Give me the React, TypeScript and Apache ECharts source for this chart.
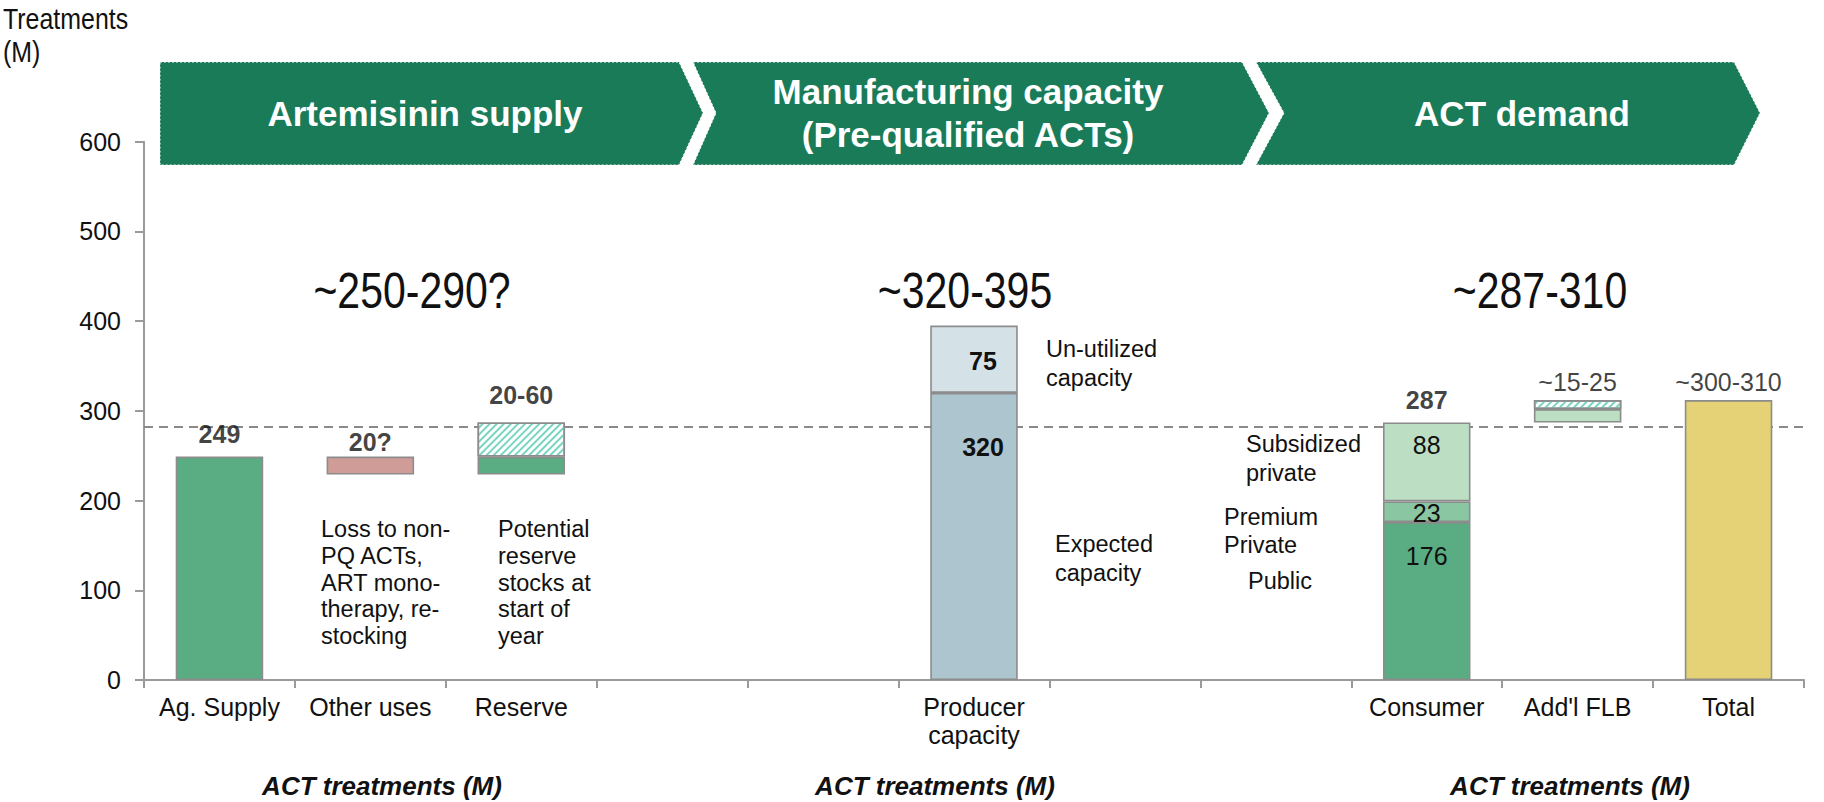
import React, { useEffect, useRef } from 'react';
import * as echarts from 'echarts';

// ---------- data ----------
const categories = ['Ag. Supply', 'Other uses', 'Reserve', '', '', 'Producer\ncapacity', '', '', 'Consumer', "Add'l FLB", 'Total'];
const baseValues: (number | string)[] = ['-', 229, 229, '-', '-', '-', '-', '-', '-', 287, '-'];
const layer1Values: (number | string)[] = [249, 20, 20, '-', '-', 320, '-', '-', 176, 15, 312];
const layer2Values: (number | string)[] = ['-', '-', 38, '-', '-', 75, '-', '-', 23, 10, '-'];
const layer3Values: (number | string)[] = ['-', '-', '-', '-', '-', '-', '-', '-', 88, '-', '-'];
const layer1Labels = ['', '', '', '', '', '320', '', '', '176', '', ''];
const layer2Labels = ['', '', '', '', '', '75', '', '', '23', '', ''];
const layer3Labels = ['', '', '', '', '', '', '', '', '88', '', ''];
const topLabels = ['249', '20?', '20-60', '', '', '', '', '', '287', '~15-25', '~300-310'];
const rangeLabels = ['~250-290?', '~320-395', '~287-310'];
const sectionTitles = ['Artemisinin supply', 'Manufacturing capacity\n(Pre-qualified ACTs)', 'ACT demand'];
const footerLabels = ['ACT treatments (M)', 'ACT treatments (M)', 'ACT treatments (M)'];
const axisTitle = 'Treatments\n(M)';
const referenceLine = 282;
const yMin = 0;
const yMax = 600;
const yInterval = 100;

// ---------- styles ----------
const FONT = '"Liberation Sans", Arial, Helvetica, sans-serif';
const GREEN = '#5AAD83';
const PINK = '#D09C98';
const BLUE_DARK = '#ADC5CF';
const BLUE_LIGHT = '#D4E1E7';
const GREEN_MID = '#8AC6A2';
const GREEN_LIGHT = '#BCDFC4';
const YELLOW = '#E5D276';
const HEADER = '#1A7B58';
const BORDER = '#8C8C8C';
const hatch = {
  symbol: 'rect',
  symbolSize: 1,
  dashArrayX: [1, 0],
  dashArrayY: [1.5, 3],
  rotation: -Math.PI / 4,
  color: '#78D6C0',
};
const layer1Colors = [GREEN, PINK, GREEN, '', '', BLUE_DARK, '', '', GREEN, GREEN_LIGHT, YELLOW];
const layer2Colors = ['', '', 'hatch', '', '', BLUE_LIGHT, '', '', GREEN_MID, 'hatch', ''];
const layer3Colors = ['', '', '', '', '', '', '', '', GREEN_LIGHT, '', ''];

const innerLabelStyle: Record<string, any> = {
  '320': { position: 'insideTop', offset: [9, 37], fontWeight: 'bold' },
  '75': { position: 'inside', offset: [9, 2], fontWeight: 'bold' },
  '176': { position: 'insideTop', offset: [0, 16], fontWeight: 'normal' },
  '23': { position: 'inside', offset: [0, 1], fontWeight: 'normal' },
  '88': { position: 'insideTop', offset: [0, 5], fontWeight: 'normal' },
};
const topLabelStyle: Record<string, any> = {
  '249': { distance: 10, fontWeight: 'bold' },
  '20?': { distance: 2, fontWeight: 'bold' },
  '20-60': { distance: 15, fontWeight: 'bold' },
  '287': { distance: 10, fontWeight: 'bold' },
  '~15-25': { distance: 6, fontWeight: 'normal' },
  '~300-310': { distance: 6, fontWeight: 'normal' },
};

const num = (v: number | string) => (typeof v === 'number' ? v : 0);

function buildLayer(values: (number | string)[], colors: string[], labels: string[]) {
  return values.map((v, i) => {
    if (typeof v !== 'number') return '-';
    const c = colors[i];
    const itemStyle: any = { borderColor: BORDER, borderWidth: 1.6 };
    if (c === 'hatch') {
      itemStyle.color = '#ffffff';
      itemStyle.decal = hatch;
    } else {
      itemStyle.color = c;
    }
    const item: any = { value: v, itemStyle };
    const lab = labels[i];
    if (lab) {
      const st = innerLabelStyle[lab] || {};
      item.label = {
        show: true,
        formatter: lab,
        position: st.position || 'inside',
        offset: st.offset || [0, 0],
        fontWeight: st.fontWeight || 'normal',
        fontSize: 25,
        fontFamily: FONT,
        color: '#111',
      };
    }
    return item;
  });
}

export default function App() {
  const ref = useRef<HTMLDivElement>(null);
  useEffect(() => {
    const chart = echarts.init(ref.current!, null, { renderer: 'svg' });

    const topData = categories.map((_, i) => {
      const total = num(baseValues[i]) + num(layer1Values[i]) + num(layer2Values[i]) + num(layer3Values[i]);
      const lab = topLabels[i];
      if (!lab) return null;
      const st = topLabelStyle[lab] || {};
      return {
        value: [i, total],
        label: {
          show: true,
          position: 'top',
          distance: st.distance ?? 6,
          formatter: lab,
          fontSize: 25,
          fontWeight: st.fontWeight || 'normal',
          fontFamily: FONT,
          color: '#111',
        },
      };
    }).filter(Boolean);

    // header arrows
    const top = 62, bottom = 165, mid = 113;
    const arrows = [
      { l: 160, notch: 0, r: 679, tip: 703, cx: 425 },
      { l: 693, notch: 23, r: 1242, tip: 1269, cx: 968 },
      { l: 1256, notch: 28, r: 1734, tip: 1760, cx: 1522 },
    ];
    const headerEls: any[] = [];
    arrows.forEach((a, i) => {
      const pts: number[][] = [[a.l, top], [a.r, top], [a.tip, mid], [a.r, bottom], [a.l, bottom]];
      if (a.notch) pts.push([a.l + a.notch, mid]);
      headerEls.push({
        type: 'polygon',
        shape: { points: pts },
        style: { fill: HEADER, stroke: '#ffffff', lineWidth: 1, lineDash: [2, 2] },
        silent: true,
      });
      headerEls.push({
        type: 'text',
        x: a.cx,
        y: mid,
        style: {
          text: sectionTitles[i],
          fill: '#ffffff',
          fontSize: 35,
          fontWeight: 'bold',
          fontFamily: FONT,
          textAlign: 'center',
          textVerticalAlign: 'middle',
          lineHeight: 43,
        },
        silent: true,
      });
    });

    const rangeX = [412, 965, 1540];
    const footerX = [382, 935, 1570];
    const textEls: any[] = [];
    rangeLabels.forEach((t, i) => {
      textEls.push({
        type: 'group', x: rangeX[i], y: 291, scaleX: 0.82, silent: true,
        children: [{
          type: 'text', x: 0, y: 0, silent: true,
          style: { text: t, fill: '#111', fontSize: 50, fontFamily: FONT, textAlign: 'center', textVerticalAlign: 'middle' },
        }],
      });
    });
    footerLabels.forEach((t, i) => {
      textEls.push({
        type: 'text', x: footerX[i], y: 786, silent: true,
        style: { text: t, fill: '#111', fontSize: 26, fontWeight: 'bold', fontStyle: 'italic', fontFamily: FONT, textAlign: 'center', textVerticalAlign: 'middle' },
      });
    });
    const notes = [
      { t: 'Loss to non-\nPQ ACTs,\nART mono-\ntherapy, re-\nstocking', x: 321, y: 516, lh: 26.7 },
      { t: 'Potential\nreserve\nstocks at\nstart of\nyear', x: 498, y: 516, lh: 26.7 },
      { t: 'Un-utilized\ncapacity', x: 1046, y: 334, lh: 29 },
      { t: 'Expected\ncapacity', x: 1055, y: 529, lh: 29 },
      { t: 'Subsidized\nprivate', x: 1246, y: 429, lh: 29 },
      { t: 'Premium\nPrivate', x: 1224, y: 503, lh: 28 },
      { t: 'Public', x: 1248, y: 567, lh: 28 },
    ];
    notes.forEach((n) => {
      textEls.push({
        type: 'text', x: n.x, y: n.y, silent: true,
        style: { text: n.t, fill: '#111', fontSize: 23.5, fontFamily: FONT, textAlign: 'left', textVerticalAlign: 'top', lineHeight: n.lh },
      });
    });
    textEls.push({
      type: 'group', x: 3, y: 3, scaleX: 0.86, silent: true,
      children: [{
        type: 'text', x: 0, y: 0, silent: true,
        style: { text: axisTitle, fill: '#111', fontSize: 29, fontFamily: FONT, textAlign: 'left', textVerticalAlign: 'top', lineHeight: 33 },
      }],
    });

    const option: any = {
      animation: false,
      backgroundColor: '#ffffff',
      grid: { left: 144, right: 20, top: 141.7, bottom: 122, containLabel: false },
      xAxis: {
        type: 'category',
        data: categories,
        axisLine: { show: true, lineStyle: { color: '#9A9A9A', width: 2 } },
        axisTick: { show: true, alignWithLabel: false, interval: 0, length: 8, lineStyle: { color: '#9A9A9A', width: 2 } },
        axisLabel: { interval: 0, margin: 13, fontSize: 25, fontFamily: FONT, color: '#111', lineHeight: 28 },
        splitLine: { show: false },
      },
      yAxis: {
        type: 'value',
        min: yMin,
        max: yMax,
        interval: yInterval,
        axisLine: { show: true, lineStyle: { color: '#9A9A9A', width: 2 } },
        axisTick: { show: true, length: 9, lineStyle: { color: '#9A9A9A', width: 2 } },
        axisLabel: { margin: 23, fontSize: 25, fontFamily: FONT, color: '#111' },
        splitLine: { show: false },
      },
      graphic: { elements: [...headerEls, ...textEls] },
      series: [
        {
          type: 'bar', stack: 'a', barWidth: '58%', silent: true,
          data: baseValues,
          itemStyle: { color: 'transparent', borderWidth: 0 },
          markLine: {
            silent: true, symbol: 'none', z: 1,
            label: { show: false },
            lineStyle: { color: '#8A8A8A', type: [9, 6], width: 2 },
            data: [{ yAxis: referenceLine }],
          },
        },
        { type: 'bar', stack: 'a', barWidth: '58%', silent: true, data: buildLayer(layer1Values, layer1Colors, layer1Labels) },
        { type: 'bar', stack: 'a', barWidth: '58%', silent: true, data: buildLayer(layer2Values, layer2Colors, layer2Labels) },
        { type: 'bar', stack: 'a', barWidth: '58%', silent: true, data: buildLayer(layer3Values, layer3Colors, layer3Labels) },
        {
          type: 'scatter', symbolSize: 0, silent: true, z: 5,
          data: topData,
        },
      ],
    };
    chart.setOption(option);
    return () => chart.dispose();
  }, []);
  return <div ref={ref} style={{ position: 'fixed', left: 0, top: 0, width: 1824, height: 802, background: '#fff' }} />;
}
